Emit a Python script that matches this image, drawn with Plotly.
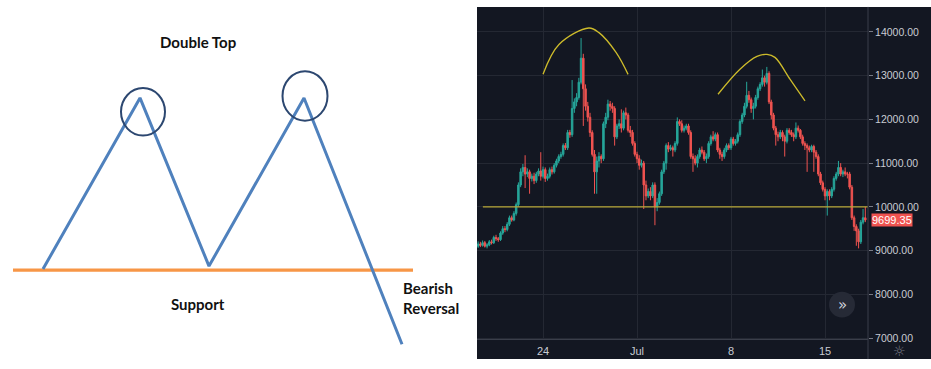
import plotly.graph_objects as go
import pandas as pd

# ---------------- candlestick data (BTC, 4h candles) ----------------
candle_times = pd.date_range("2019-06-19 04:00", periods=174, freq="4h")

opens = [
    9100, 9150, 9120, 9180, 9100, 9130, 9200, 9180, 9300, 9270,
    9250, 9400, 9500, 9480, 9600, 9750, 9700, 9850, 10050, 10500,
    10800, 10900, 10750, 10800, 10650, 10700, 10600, 10750, 10820, 10700,
    10850, 10650, 10700, 10850, 10800, 10950, 11050, 11150, 11200, 11400,
    11350, 11700, 11650, 12250, 12400, 12500, 12850, 13400, 12700, 12300,
    12050, 11700, 11200, 10800, 11050, 11150, 11100, 11900, 12050, 12350,
    12300, 12250, 11600, 11850, 11900, 11800, 12150, 12100, 11750, 11700,
    11450, 11200, 11100, 10950, 11000, 10500, 10250, 10350, 10250, 10500,
    10000, 10100, 10300, 10800, 11000, 11400, 11320, 11350, 11300, 11450,
    11950, 11900, 11750, 11800, 11850, 11700, 11150, 11100, 11000, 11150,
    11300, 11250, 11100, 11150, 11450, 11600, 11550, 11650, 11300, 11200,
    11150, 11300, 11400, 11350, 11550, 11450, 11500, 11650, 11950, 12100,
    12300, 12550, 12450, 12250, 12300, 12500, 12700, 12800, 12950, 12850,
    13050, 12400, 12100, 11800, 11650, 11600, 11700, 11600, 11500, 11750,
    11700, 11650, 11600, 11800, 11750, 11600, 11450, 11400, 11350, 11300,
    11380, 11250, 11150, 10750, 10550, 10400, 10250, 10350, 10250, 10400,
    10650, 10750, 10900, 10750, 10800, 10750, 10750, 10450, 9750, 9550,
    9450, 9200, 9650, 9750,
]
highs = [
    9210, 9200, 9230, 9220, 9170, 9240, 9250, 9340, 9360, 9310,
    9440, 9560, 9560, 9650, 9800, 9800, 9900, 10100, 10560, 10880,
    10980, 11180, 10880, 10850, 10760, 10780, 10800, 10880, 11250, 10920,
    10900, 10760, 10900, 10920, 11000, 11100, 11200, 11260, 11450, 11460,
    11760, 11760, 12900, 12480, 12600, 12950, 13860, 13500, 12800, 12400,
    12150, 11750, 11300, 11150, 11250, 11200, 11950, 12150, 12450, 12420,
    12380, 12300, 11900, 12000, 12230, 12200, 12270, 12150, 11850, 11760,
    11500, 11260, 11180, 11080, 11050, 10600, 10420, 10450, 10560, 10560,
    10200, 10350, 10850, 11050, 11450, 11480, 11420, 11400, 11500, 12045,
    12000, 11980, 11860, 11900, 11900, 11750, 11220, 11180, 11200, 11350,
    11380, 11300, 11220, 11500, 11650, 11730, 11700, 11700, 11350, 11260,
    11350, 11450, 11450, 11600, 11600, 11550, 11700, 12000, 12150, 12380,
    12860, 12650, 12500, 12380, 12560, 12750, 12850, 13140, 13000, 13200,
    13100, 12450, 12150, 11850, 11720, 11760, 11750, 11650, 11800, 11800,
    11760, 11700, 11930, 11860, 11780, 11650, 11500, 11450, 11400, 11420,
    11420, 11300, 11200, 10800, 10600, 10450, 10400, 10400, 10450, 10700,
    10800, 11050, 11000, 10850, 10900, 10800, 10800, 10500, 9800, 9600,
    9500, 9700, 9950, 10000,
]
lows = [
    9060, 9080, 9090, 9070, 9050, 9100, 9140, 9150, 9220, 9200,
    9220, 9360, 9420, 9440, 9560, 9660, 9670, 9800, 10000, 10450,
    10700, 10430, 10680, 10300, 10580, 10520, 10550, 10700, 10600, 10650,
    10570, 10600, 10650, 10740, 10760, 10900, 11000, 11100, 11150, 11300,
    11300, 11580, 11600, 12150, 12300, 12450, 12800, 11850, 12200, 11950,
    11600, 11150, 10300, 10300, 10900, 11000, 11050, 11800, 11980, 12200,
    12150, 11400, 11550, 11780, 11700, 11750, 12000, 11700, 11600, 11400,
    11150, 11000, 10850, 10900, 9950, 10150, 10200, 10150, 10200, 9580,
    9900, 10050, 10250, 10750, 10850, 11250, 11280, 11150, 11250, 11400,
    11850, 11700, 11700, 11750, 11650, 11100, 10800, 10950, 10900, 11100,
    11200, 11050, 11000, 11100, 11400, 11500, 11500, 11250, 11100, 11050,
    11100, 11250, 11300, 11300, 11400, 11400, 11450, 11600, 11900, 12050,
    12250, 12380, 12150, 12000, 12250, 12450, 12650, 12750, 12750, 12800,
    12350, 12000, 11750, 11400, 11500, 11550, 11500, 11150, 11450, 11650,
    11600, 11500, 11550, 11700, 11550, 11400, 11300, 10800, 11250, 11250,
    10800, 11100, 10700, 10500, 10350, 10150, 9800, 10150, 10200, 10350,
    10600, 10700, 10700, 10680, 10700, 10650, 10400, 9700, 9450, 9110,
    9050, 9150, 9600, 9650,
]
closes = [
    9150, 9120, 9180, 9100, 9130, 9200, 9180, 9300, 9270, 9250,
    9400, 9500, 9480, 9600, 9750, 9700, 9850, 10050, 10500, 10800,
    10900, 10750, 10800, 10650, 10700, 10600, 10750, 10820, 10700, 10850,
    10650, 10700, 10850, 10800, 10950, 11050, 11150, 11200, 11400, 11350,
    11700, 11650, 12250, 12400, 12500, 12850, 13400, 12700, 12300, 12050,
    11700, 11200, 10800, 11050, 11150, 11100, 11900, 12050, 12350, 12300,
    12250, 11600, 11850, 11900, 11800, 12150, 12100, 11750, 11700, 11450,
    11200, 11100, 10950, 11000, 10500, 10250, 10350, 10250, 10500, 10000,
    10100, 10300, 10800, 11000, 11400, 11320, 11350, 11300, 11450, 11950,
    11900, 11750, 11800, 11850, 11700, 11150, 11100, 11000, 11150, 11300,
    11250, 11100, 11150, 11450, 11600, 11550, 11650, 11300, 11200, 11150,
    11300, 11400, 11350, 11550, 11450, 11500, 11650, 11950, 12100, 12300,
    12550, 12450, 12250, 12300, 12500, 12700, 12800, 12950, 12850, 13050,
    12400, 12100, 11800, 11650, 11600, 11700, 11600, 11500, 11750, 11700,
    11650, 11600, 11800, 11750, 11600, 11450, 11400, 11350, 11300, 11380,
    11250, 11150, 10750, 10550, 10400, 10250, 10350, 10250, 10400, 10650,
    10750, 10900, 10750, 10800, 10750, 10750, 10450, 9750, 9550, 9450,
    9200, 9650, 9750, 9699.35,
]

support_level = 10000
last_price = 9699.35
last_price_label = "9699.35"

price_ticks = [7000, 8000, 9000, 10000, 11000, 12000, 13000, 14000]
time_tick_dates = ["2019-06-24", "2019-07-01", "2019-07-08", "2019-07-15"]
time_tick_labels = ["24", "Jul", "8", "15"]
x_range = ["2019-06-19 02:00", "2019-07-18 04:50"]
y_range = [6971, 14572]

arc1_times = ["2019-06-24 00:00", "2019-06-25 04:30", "2019-06-27 10:00",
              "2019-06-28 04:00", "2019-06-29 10:30", "2019-06-30 08:00"]
arc1_prices = [13034, 13713, 14090, 13984, 13532, 13030]
arc2_times = ["2019-07-07 00:45", "2019-07-08 16:00", "2019-07-09 22:20",
              "2019-07-10 16:20", "2019-07-11 06:30", "2019-07-12 09:20",
              "2019-07-13 12:15"]
arc2_prices = [12575, 13147, 13440, 13486, 13418, 12921, 12421]

# ---------------- schematic diagram data ----------------
zigzag_x = [43, 140, 209, 304, 402]
zigzag_y = [272, 99, 269, 99, 348]
support_x = [13, 413]
support_y = [273, 273]
peak_cx = [143, 305]
peak_cy = [113, 97]
peak_rx = [22, 22.5]
peak_ry = [24, 25]

# ---------------- styling ----------------
BG = "#131722"
GRID = "#242833"
UP = "#26a69a"
DOWN = "#ef5350"
TXT = "#c9ccd3"
YEL = "#cdbb2b"

W, H = 931, 369
px0, px1 = 477 / W, 868 / W      # candle plot horizontal domain
py0, py1 = (H - 343) / H, (H - 7) / H

fig = go.Figure()

# dark panel
fig.add_shape(type="rect", xref="paper", yref="paper",
              x0=477 / W, x1=1, y0=(H - 363) / H, y1=(H - 7) / H,
              fillcolor=BG, line=dict(width=0), layer="below")

fig.add_trace(go.Candlestick(
    x=candle_times, open=opens, high=highs, low=lows, close=closes,
    increasing=dict(line=dict(color=UP, width=1), fillcolor=UP),
    decreasing=dict(line=dict(color=DOWN, width=1), fillcolor=DOWN),
    whiskerwidth=0, showlegend=False, hoverinfo="skip",
    xaxis="x", yaxis="y"))

fig.add_trace(go.Scatter(x=arc1_times, y=arc1_prices, mode="lines",
                         line=dict(color=YEL, width=1.3, shape="spline"),
                         showlegend=False, hoverinfo="skip"))
fig.add_trace(go.Scatter(x=arc2_times, y=arc2_prices, mode="lines",
                         line=dict(color=YEL, width=1.3, shape="spline"),
                         showlegend=False, hoverinfo="skip"))

fig.add_shape(type="line", xref="x domain", yref="y",
              x0=0.015, x1=1, y0=support_level, y1=support_level,
              line=dict(color="#b8a838", width=1.3))

# diagram traces
fig.add_trace(go.Scatter(x=support_x, y=support_y, mode="lines",
                         line=dict(color="#f79646", width=3.2),
                         xaxis="x2", yaxis="y2", showlegend=False, hoverinfo="skip"))
fig.add_trace(go.Scatter(x=zigzag_x, y=zigzag_y, mode="lines",
                         line=dict(color="#4f81bd", width=3),
                         xaxis="x2", yaxis="y2", showlegend=False, hoverinfo="skip"))
for cx, cy, rx, ry in zip(peak_cx, peak_cy, peak_rx, peak_ry):
    fig.add_shape(type="circle", xref="x2", yref="y2",
                  x0=cx - rx, x1=cx + rx, y0=cy - ry, y1=cy + ry,
                  line=dict(color="#2c4770", width=2))

dfont = dict(family="Lato, 'Open Sans', sans-serif", size=15, color="#111111")
fig.add_annotation(x=198, y=42, xref="x2", yref="y2", text="<b>Double Top</b>",
                   showarrow=False, font=dfont)
fig.add_annotation(x=198, y=307, xref="x2", yref="y2", text="<b>Support</b>",
                   showarrow=False, font=dfont)
fig.add_annotation(x=401, y=291, xref="x2", yref="y2", text="<b>Bearish</b>",
                   showarrow=False, font=dfont, xanchor="left")
fig.add_annotation(x=401, y=311, xref="x2", yref="y2", text="<b>Reversal</b>",
                   showarrow=False, font=dfont, xanchor="left")

# price-axis separator (full height)
fig.add_shape(type="line", xref="paper", yref="paper",
              x0=px1, x1=px1, y0=(H - 363) / H, y1=(H - 7) / H,
              line=dict(color="#3a3e4a", width=1))

# last price label
fig.add_annotation(x=px1, xref="paper", y=last_price, yref="y", yshift=0,
                   xanchor="left", yanchor="middle", xshift=3,
                   text=last_price_label, showarrow=False,
                   bgcolor=DOWN, borderpad=0,
                   font=dict(family="Liberation Sans, Arial", size=11, color="white"))

# scroll button
fig.add_shape(type="circle", xref="paper", yref="paper",
              x0=829 / W, x1=855 / W, y0=(H - 321) / H, y1=(H - 295) / H,
              fillcolor="#262a36", line=dict(width=0))
fig.add_annotation(x=842 / W, y=(H - 308) / H, xref="paper", yref="paper",
                   xanchor="center", yanchor="middle",
                   text="»", showarrow=False,
                   font=dict(family="DejaVu Sans", size=15, color="#d1d4dc"))
# settings icon
fig.add_annotation(x=899 / W, y=(H - 355) / H, xref="paper", yref="paper",
                   xanchor="center", yanchor="middle",
                   text="☼", showarrow=False,
                   font=dict(family="DejaVu Sans", size=14, color="#787b86"))

axfont = dict(family="Liberation Sans, Arial", size=10.5, color=TXT)

fig.update_layout(
    width=W, height=H, margin=dict(l=0, r=0, t=0, b=0),
    paper_bgcolor="white", plot_bgcolor="rgba(0,0,0,0)",
    showlegend=False, boxgap=0.05,
    xaxis=dict(domain=[px0, px1], range=x_range, rangeslider=dict(visible=False),
               tickvals=time_tick_dates, ticktext=time_tick_labels,
               showgrid=True, gridcolor=GRID, gridwidth=1,
               showline=True, linecolor="#3a3e4a", linewidth=1,
               ticks="", tickfont=dict(family="Liberation Sans, Arial", size=11,
                                       color=TXT),
               ticklabelstandoff=2, zeroline=False, fixedrange=True),
    yaxis=dict(domain=[py0, py1], range=y_range, side="right",
               tickvals=price_ticks, tickformat=".2f",
               showgrid=True, gridcolor=GRID, gridwidth=1,
               ticks="outside", ticklen=4, tickcolor="#787b86",
               showline=False, zeroline=False, tickfont=axfont),
    xaxis2=dict(domain=[0, 477 / W], range=[0, 477], visible=False,
                anchor="y2", fixedrange=True),
    yaxis2=dict(domain=[0, 1], range=[H, 0], visible=False,
                anchor="x2", fixedrange=True),
)

fig.write_html("out.html", config={"displayModeBar": False},
               post_script="document.body.style.margin='0';"
                           "document.body.style.overflow='hidden';")
